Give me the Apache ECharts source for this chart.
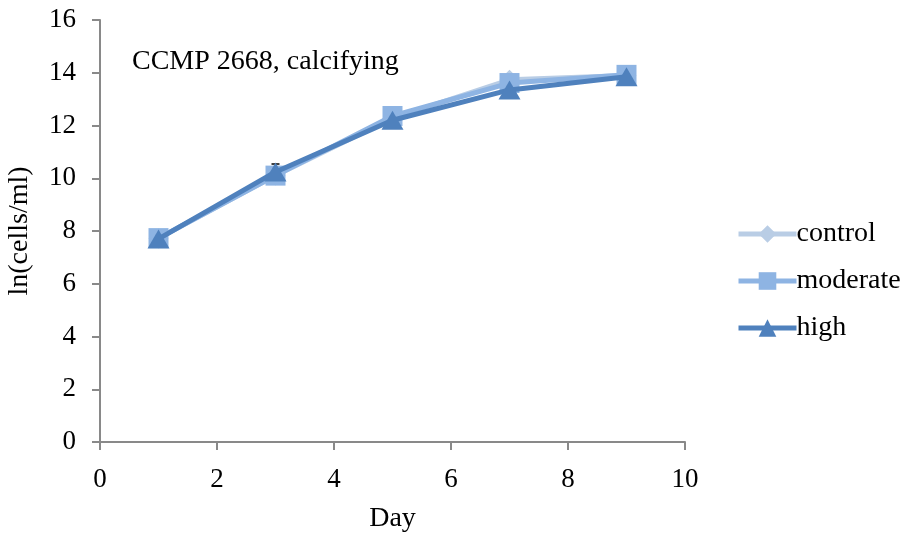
<!DOCTYPE html>
<html>
<head>
<meta charset="utf-8">
<script src="https://cdn.jsdelivr.net/npm/echarts@6/dist/echarts.min.js"></script>
<style>html,body{margin:0;padding:0;background:#fff}#c{width:908px;height:535px}</style>
</head>
<body>
<div id="c"></div>
<script>
const days = [1, 3, 5, 7, 9];
const control = [7.72, 10.1, 12.27, 13.73, 13.9];
const moderate = [7.73, 10.1, 12.36, 13.61, 13.92];
const high = [7.7, 10.24, 12.2, 13.35, 13.85];
const highErr = [0, 0.3, 0, 0, 0];
const seriesNames = ['control', 'moderate', 'high'];
const xTicks = [0, 2, 4, 6, 8, 10];
const yTicks = [0, 2, 4, 6, 8, 10, 12, 14, 16];

const font = 'Liberation Serif, Times New Roman, serif';
const fs = 27;
const pair = arr => days.map((d, i) => [d, arr[i]]);
const chart = echarts.init(document.getElementById('c'), null, {renderer: 'canvas'});
chart.setOption({
  animation: false,
  textStyle: {fontFamily: font},
  title: {
    text: 'CCMP 2668, calcifying',
    left: 132, top: 48, padding: 0,
    textStyle: {fontFamily: font, fontSize: 28, fontWeight: 'normal', color: '#000'}
  },
  legend: {
    orient: 'vertical',
    left: 736, top: 220, padding: 0,
    itemWidth: 58, itemHeight: 22, itemGap: 19,
    lineStyle: {width: 5},
    textStyle: {fontFamily: font, fontSize: 28, color: '#000', padding: [0, 0, 0, -5]},
    data: seriesNames
  },
  grid: {left: 100, right: 223, top: 20, bottom: 93, containLabel: false, outerBoundsMode: 'none'},
  xAxis: {
    type: 'value', min: xTicks[0], max: xTicks[xTicks.length - 1], interval: 2,
    name: 'Day', nameLocation: 'middle', nameGap: 63,
    nameTextStyle: {fontFamily: font, fontSize: 28, color: '#000'},
    axisLine: {show: true, lineStyle: {color: '#898989', width: 2}},
    axisTick: {show: true, length: 8, lineStyle: {color: '#898989', width: 2}},
    axisLabel: {fontFamily: font, fontSize: fs, color: '#000', margin: 24},
    splitLine: {show: false}
  },
  yAxis: {
    type: 'value', min: yTicks[0], max: yTicks[yTicks.length - 1], interval: 2,
    name: 'ln(cells/ml)', nameLocation: 'middle', nameGap: 66,
    nameTextStyle: {fontFamily: font, fontSize: 28, color: '#000'},
    axisLine: {show: true, lineStyle: {color: '#898989', width: 2}},
    axisTick: {show: true, length: 8, lineStyle: {color: '#898989', width: 2}},
    axisLabel: {fontFamily: font, fontSize: fs, color: '#000', margin: 24},
    splitLine: {show: false}
  },
  series: [
    {
      name: 'control', type: 'line', data: pair(control),
      symbol: 'diamond', symbolSize: 20,
      lineStyle: {width: 5, color: '#b9cde5'},
      itemStyle: {color: '#b9cde5'}, z: 2
    },
    {
      name: 'moderate', type: 'line', data: pair(moderate),
      symbol: 'rect', symbolSize: 20,
      lineStyle: {width: 5, color: '#8eb4e3'},
      itemStyle: {color: '#8eb4e3'}, z: 3
    },
    {
      name: 'high', type: 'line', data: pair(high),
      symbol: 'triangle', symbolSize: [22, 19],
      lineStyle: {width: 5, color: '#4f81bd'},
      itemStyle: {color: '#4f81bd'}, z: 5
    },
    {
      type: 'custom', z: 4, silent: true,
      data: days.map((d, i) => [d, high[i], highErr[i]]),
      renderItem: function (params, api) {
        const e = api.value(2);
        if (!e) return null;
        const x = api.value(0), y = api.value(1);
        const top = api.coord([x, y + e]);
        const bot = api.coord([x, y - e]);
        return {
          type: 'group',
          children: [
            {type: 'line', shape: {x1: top[0], y1: top[1], x2: bot[0], y2: bot[1]}, style: {stroke: '#000', lineWidth: 1}},
            {type: 'line', shape: {x1: top[0] - 4, y1: top[1], x2: top[0] + 4, y2: top[1]}, style: {stroke: '#000', lineWidth: 1.5}},
            {type: 'line', shape: {x1: bot[0] - 4, y1: bot[1], x2: bot[0] + 4, y2: bot[1]}, style: {stroke: '#000', lineWidth: 1.5}}
          ]
        };
      }
    }
  ]
});
</script>
</body>
</html>
